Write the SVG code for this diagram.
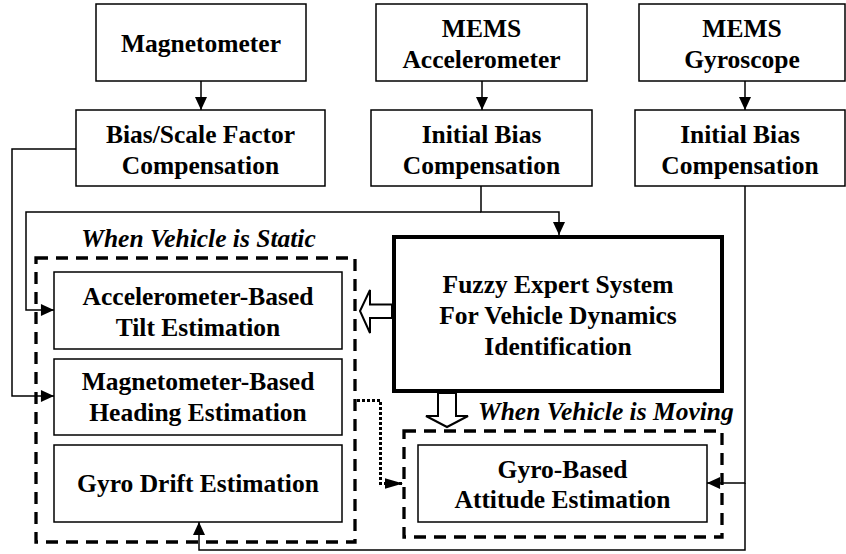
<svg xmlns="http://www.w3.org/2000/svg" width="846" height="554" viewBox="0 0 846 554">
  <style>
    .box { fill: #fff; stroke: #000; stroke-width: 1.5; }
    .thick { fill: #fff; stroke: #000; stroke-width: 4; }
    .dash { fill: none; stroke: #000; stroke-width: 3.3; stroke-dasharray: 12 8; }
    .lbl { font-family: "Liberation Serif", "Times New Roman", serif; font-weight: bold; font-size: 25.5px; text-anchor: middle; fill: #000; }
    .cap { font-family: "Liberation Serif", "Times New Roman", serif; font-weight: bold; font-style: italic; font-size: 25.5px; fill: #000; }
    .wire { fill: none; stroke: #000; stroke-width: 1.5; }
    .dot { fill: none; stroke: #000; stroke-width: 3; stroke-dasharray: 3 2; }
    .hollow { fill: #fff; stroke: #000; stroke-width: 2; }
  </style>
  <defs>
    <marker id="tri" markerUnits="userSpaceOnUse" markerWidth="14" markerHeight="12" viewBox="0 0 12 11" refX="12" refY="5.5" orient="auto">
      <path d="M0,0 L12,5.5 L0,11 Z" fill="#000"/>
    </marker>
    <marker id="triLong" markerUnits="userSpaceOnUse" markerWidth="18" markerHeight="12" viewBox="0 0 17 10" refX="17" refY="5" orient="auto">
      <path d="M0,0 L17,5 L0,10 Z" fill="#000"/>
    </marker>
  </defs>

  <!-- dashed mode frames -->
  <g id="static-frame">
    <rect class="dash" x="36" y="258" width="319" height="284"/>
    <text class="cap" x="198.5" y="247" text-anchor="middle">When Vehicle is Static</text>
  </g>
  <g id="moving-frame">
    <rect class="dash" x="404" y="431" width="318" height="106"/>
    <text class="cap" x="478" y="420">When Vehicle is Moving</text>
  </g>

  <!-- sensors -->
  <g id="magnetometer">
    <rect class="box" x="96" y="4" width="210" height="77"/>
    <text class="lbl" x="201" y="52">Magnetometer</text>
  </g>
  <g id="mems-accelerometer">
    <rect class="box" x="376" y="4" width="211" height="77"/>
    <text class="lbl" x="481.5" y="37">MEMS</text>
    <text class="lbl" x="481.5" y="68">Accelerometer</text>
  </g>
  <g id="mems-gyroscope">
    <rect class="box" x="639" y="4" width="206" height="77"/>
    <text class="lbl" x="742" y="37">MEMS</text>
    <text class="lbl" x="742" y="68">Gyroscope</text>
  </g>

  <!-- compensation stages -->
  <g id="mag-compensation">
    <rect class="box" x="76" y="110" width="249" height="76"/>
    <text class="lbl" x="200.5" y="143">Bias/Scale Factor</text>
    <text class="lbl" x="200.5" y="174">Compensation</text>
  </g>
  <g id="accel-compensation">
    <rect class="box" x="371" y="110" width="221" height="76"/>
    <text class="lbl" x="481.5" y="143">Initial Bias</text>
    <text class="lbl" x="481.5" y="174">Compensation</text>
  </g>
  <g id="gyro-compensation">
    <rect class="box" x="635" y="110" width="210" height="76"/>
    <text class="lbl" x="740" y="143">Initial Bias</text>
    <text class="lbl" x="740" y="174">Compensation</text>
  </g>

  <!-- static estimators -->
  <g id="tilt-estimation">
    <rect class="box" x="54" y="272" width="288" height="77"/>
    <text class="lbl" x="198" y="305">Accelerometer-Based</text>
    <text class="lbl" x="198" y="336">Tilt Estimation</text>
  </g>
  <g id="heading-estimation">
    <rect class="box" x="54" y="359" width="288" height="76"/>
    <text class="lbl" x="198" y="390">Magnetometer-Based</text>
    <text class="lbl" x="198" y="421">Heading Estimation</text>
  </g>
  <g id="drift-estimation">
    <rect class="box" x="54" y="445" width="288" height="77"/>
    <text class="lbl" x="198" y="492">Gyro Drift Estimation</text>
  </g>

  <!-- fuzzy identification -->
  <g id="fuzzy-expert">
    <rect class="thick" x="394" y="237" width="328" height="154"/>
    <text class="lbl" x="558" y="293">Fuzzy Expert System</text>
    <text class="lbl" x="558" y="324">For Vehicle Dynamics</text>
    <text class="lbl" x="558" y="355">Identification</text>
  </g>

  <!-- moving estimator -->
  <g id="attitude-estimation">
    <rect class="box" x="418" y="445" width="289" height="77"/>
    <text class="lbl" x="562.5" y="478">Gyro-Based</text>
    <text class="lbl" x="562.5" y="508">Attitude Estimation</text>
  </g>

  <!-- connectors -->
  <g id="connectors">
    <path class="wire" d="M201,81 V110" marker-end="url(#tri)"/>
    <path class="wire" d="M482,81 V110" marker-end="url(#tri)"/>
    <path class="wire" d="M745,81 V110" marker-end="url(#tri)"/>
    <path class="wire" d="M481,186 V212 H559 V235" marker-end="url(#tri)"/>
    <path class="wire" d="M481,212 H26 V310 H54" marker-end="url(#tri)"/>
    <path class="wire" d="M76,149 H12 V396 H54" marker-end="url(#tri)"/>
    <path class="wire" d="M745,186 V483 H707" marker-end="url(#tri)"/>
    <path class="wire" d="M745,483 V550 H199 V522" marker-end="url(#tri)"/>
    <path class="dot" d="M357,400.5 H380.5 V483.5 H403" marker-end="url(#triLong)"/>
    <polygon class="hollow" points="360,311 370,290 370,304.5 392,304.5 392,318 370,318 370,333"/>
    <polygon class="hollow" points="438,393 456,393 456,416 468,416 447,427 426,416 438,416"/>
  </g>
</svg>
